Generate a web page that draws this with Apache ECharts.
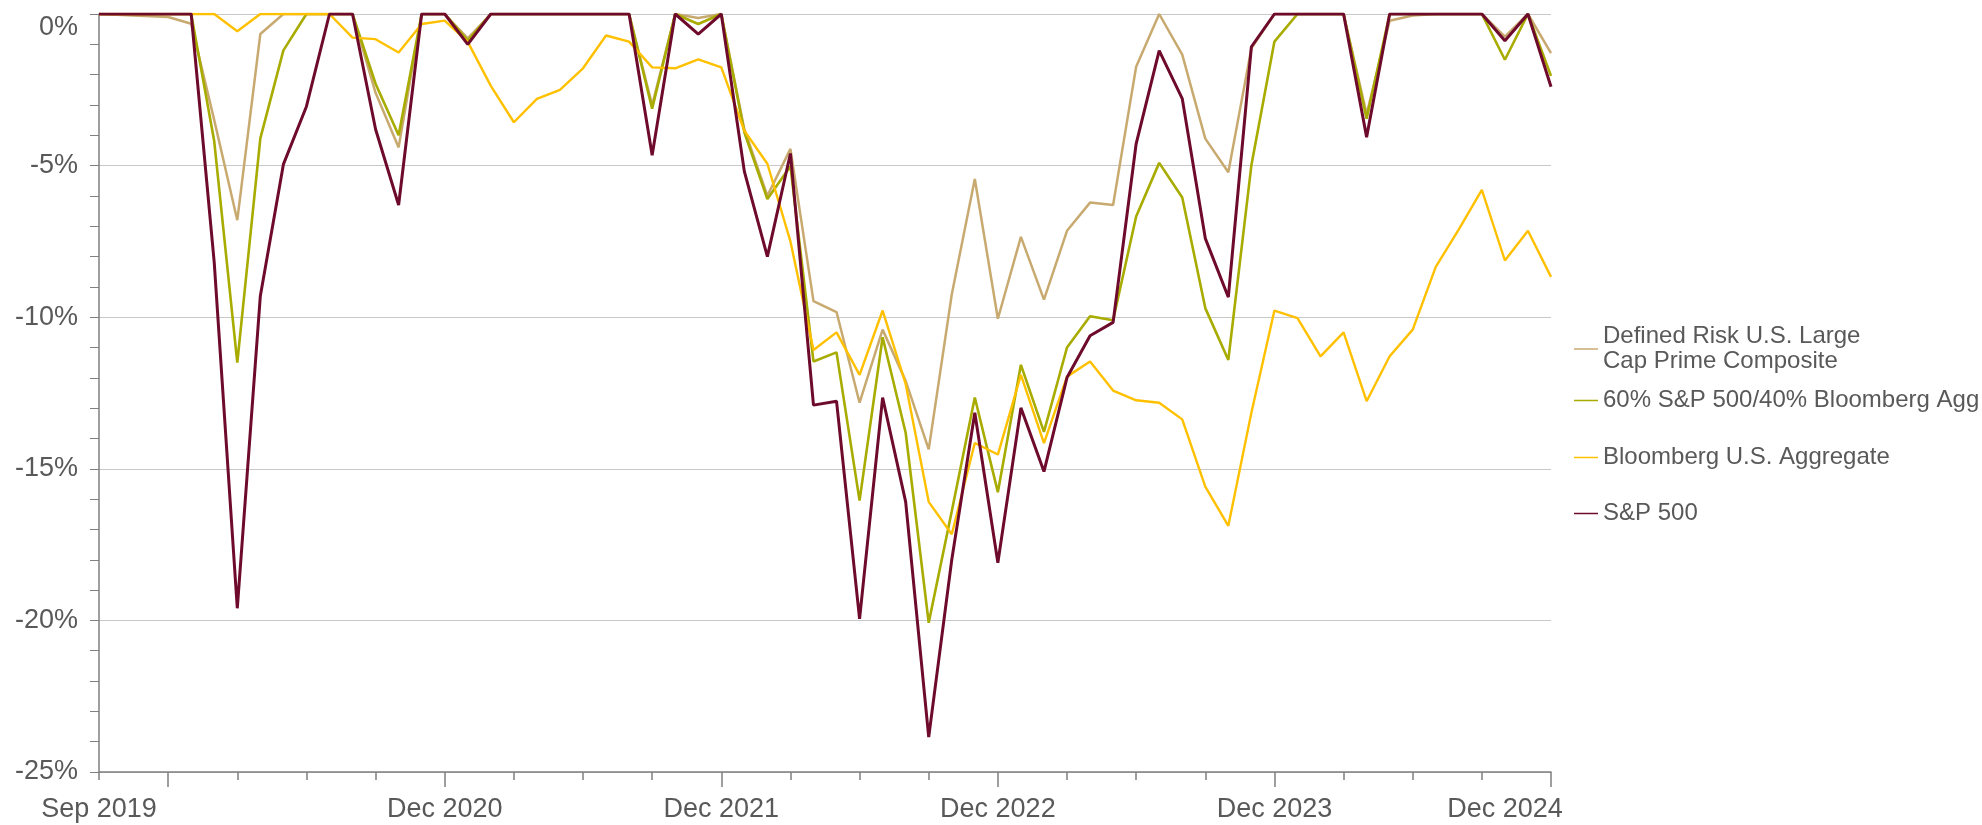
<!DOCTYPE html>
<html>
<head>
<meta charset="utf-8">
<script src="https://cdn.jsdelivr.net/npm/echarts@6/dist/echarts.min.js"></script>
<style>
  html, body { margin: 0; padding: 0; background: #ffffff; }
  #chart { width: 1982px; height: 825px; }
</style>
</head>
<body>
<div id="chart"></div>
<script>
// ---- Data (monthly drawdown, %) ----
const months = [
  'Sep 2019','Oct 2019','Nov 2019','Dec 2019',
  'Jan 2020','Feb 2020','Mar 2020','Apr 2020','May 2020','Jun 2020','Jul 2020','Aug 2020','Sep 2020','Oct 2020','Nov 2020','Dec 2020',
  'Jan 2021','Feb 2021','Mar 2021','Apr 2021','May 2021','Jun 2021','Jul 2021','Aug 2021','Sep 2021','Oct 2021','Nov 2021','Dec 2021',
  'Jan 2022','Feb 2022','Mar 2022','Apr 2022','May 2022','Jun 2022','Jul 2022','Aug 2022','Sep 2022','Oct 2022','Nov 2022','Dec 2022',
  'Jan 2023','Feb 2023','Mar 2023','Apr 2023','May 2023','Jun 2023','Jul 2023','Aug 2023','Sep 2023','Oct 2023','Nov 2023','Dec 2023',
  'Jan 2024','Feb 2024','Mar 2024','Apr 2024','May 2024','Jun 2024','Jul 2024','Aug 2024','Sep 2024','Oct 2024','Nov 2024','Dec 2024'
];

const xTickLabels = ['Sep 2019','Dec 2020','Dec 2021','Dec 2022','Dec 2023','Dec 2024'];

const seriesNames = [
  'Defined Risk U.S. Large Cap Prime Composite',
  '60% S&P 500/40% Bloomberg Agg',
  'Bloomberg U.S. Aggregate',
  'S&P 500'
];

const definedRisk = [
  0, -0.03, -0.07, -0.1,
  -0.32, -3.5, -6.8, -0.66, 0, 0, 0, 0, -2.6, -4.4, 0, 0,
  -0.8, 0, 0, 0, 0, 0, 0, 0, -3.0, 0, -0.13, 0,
  -3.8, -6.0, -4.45, -9.47, -9.83, -12.82, -10.41, -12.1, -14.36, -9.25, -5.44, -10.05,
  -7.35, -9.42, -7.15, -6.22, -6.3, -1.74, 0, -1.34, -4.11, -5.22, -1.13, 0,
  0, 0, 0, -3.3, -0.22, -0.05, 0, 0, 0, -0.75, 0, -1.29
];

const sixtyForty = [
  0, 0, 0, 0,
  0, -4.2, -11.5, -4.1, -1.2, 0, 0, 0, -2.3, -4.0, 0, 0,
  -0.88, 0, 0, 0, 0, 0, 0, 0, -3.12, 0, -0.33, 0,
  -3.9, -6.1, -5.02, -11.46, -11.16, -16.05, -10.66, -13.81, -20.08, -16.4, -12.65, -15.77,
  -11.57, -13.78, -11.0, -9.97, -10.1, -6.68, -4.91, -6.05, -9.7, -11.41, -4.99, -0.91,
  0, 0, 0, -3.45, 0, 0, 0, 0, 0, -1.51, 0, -2.04
];

const bbgAgg = [
  0, 0, 0, 0,
  0, 0, -0.57, 0, 0, 0, 0, -0.78, -0.83, -1.27, -0.33, -0.22,
  -0.92, -2.37, -3.57, -2.8, -2.5, -1.79, -0.71, -0.91, -1.76, -1.79, -1.5, -1.76,
  -3.85, -4.94, -7.5, -11.08, -10.5, -11.9, -9.78, -12.2, -16.09, -17.16, -14.15, -14.53,
  -11.9, -14.15, -11.96, -11.46, -12.42, -12.74, -12.82, -13.37, -15.59, -16.88, -13.15, -9.78,
  -10.03, -11.29, -10.5, -12.77, -11.29, -10.41, -8.34, -7.1, -5.8, -8.13, -7.15, -8.67
];

const sp500 = [
  0, 0, 0, 0,
  0, -8.2, -19.6, -9.3, -4.96, -3.05, 0, 0, -3.8, -6.3, 0, 0,
  -1.0, 0, 0, 0, 0, 0, 0, 0, -4.66, 0, -0.66, 0,
  -5.19, -8.0, -4.6, -12.9, -12.77, -19.95, -12.65, -16.09, -23.85, -18.0, -13.15, -18.1,
  -12.99, -15.09, -11.99, -10.61, -10.17, -4.28, -1.21, -2.79, -7.4, -9.34, -1.08, 0,
  0, 0, 0, -4.06, 0, 0, 0, 0, 0, -0.88, 0, -2.4
];

const seriesValues = [definedRisk, sixtyForty, bbgAgg, sp500];
const colors = ['#C8AA70', '#A8AB00', '#FFC000', '#6E0A2C'];
const widths = [2.5, 2.6, 2.4, 3];

// ---- Chart ----
const FONT = '"Liberation Sans", Arial, sans-serif';
const TEXT = '#595959';
const AXIS = '#7F7F7F';
const chart = echarts.init(document.getElementById('chart'), null, { renderer: 'canvas' });

const legendTops = [324, 388, 445, 501];
const gridTop = 14, gridBottom = 53, H = 825;
const gridHeight = H - gridTop - gridBottom;

const option = {
  animation: false,
  backgroundColor: '#ffffff',
  grid: { left: 99, right: 431, top: gridTop, bottom: gridBottom, containLabel: false },
  legend: seriesNames.map((n, i) => ({
    data: [n],
    orient: 'vertical',
    left: 1574,
    top: legendTops[i],
    padding: 0,
    icon: 'rect',
    itemWidth: 24,
    itemHeight: 1.5,
    itemGap: 0,
    selectedMode: false,
    textStyle: { fontFamily: FONT, fontSize: 24, color: TEXT, lineHeight: 25 },
    formatter: function (name) {
      return name === seriesNames[0] ? 'Defined Risk U.S. Large\nCap Prime Composite' : name;
    }
  })),
  xAxis: [
    {
      type: 'category',
      position: 'bottom',
      data: months,
      boundaryGap: false,
      axisLine: { show: true, onZero: false, lineStyle: { color: AXIS, width: 1.5 } },
      axisTick: {
        show: true,
        length: 8,
        interval: function (i) { return i % 3 === 0; },
        lineStyle: { color: AXIS, width: 1.5 }
      },
      axisLabel: {
        show: true,
        interval: function (i, v) { return xTickLabels.indexOf(v) >= 0; },
        margin: 24,
        fontFamily: FONT,
        fontSize: 27,
        color: TEXT,
        formatter: function (v) {
          return v === xTickLabels[xTickLabels.length - 1] ? '{last|' + v + '}' : v;
        },
        rich: {
          last: { fontFamily: FONT, fontSize: 27, color: TEXT, padding: [0, 92, 0, 0] }
        }
      },
      splitLine: { show: false }
    },
    {
      type: 'category',
      position: 'top',
      offset: -gridHeight,
      data: months,
      boundaryGap: false,
      axisLine: { show: false, onZero: false },
      axisTick: {
        show: true,
        inside: true,
        length: 15,
        interval: function (i, v) { return v.indexOf('Dec') === 0; },
        lineStyle: { color: AXIS, width: 1.5 }
      },
      axisLabel: { show: false },
      splitLine: { show: false }
    }
  ],
  yAxis: {
    type: 'value',
    min: -25,
    max: 0,
    interval: 5,
    axisLine: { show: true, lineStyle: { color: AXIS, width: 1.5 } },
    axisTick: { show: true, length: 9, lineStyle: { color: AXIS, width: 1 } },
    minorTick: { show: true, splitNumber: 5, length: 9, lineStyle: { color: AXIS, width: 1 } },
    axisLabel: {
      formatter: '{value}%',
      margin: 21,
      fontFamily: FONT,
      fontSize: 27,
      color: TEXT,
      verticalAlignMaxLabel: 'top'
    },
    splitLine: { show: true, lineStyle: { color: '#C8C8C8', width: 1.2 } }
  },
  series: seriesNames.map((n, i) => ({
    name: n,
    type: 'line',
    xAxisIndex: 0,
    data: seriesValues[i],
    showSymbol: false,
    symbol: 'none',
    smooth: false,
    color: colors[i],
    lineStyle: { color: colors[i], width: widths[i] },
    z: 2 + i
  }))
};

chart.setOption(option);
</script>
</body>
</html>
